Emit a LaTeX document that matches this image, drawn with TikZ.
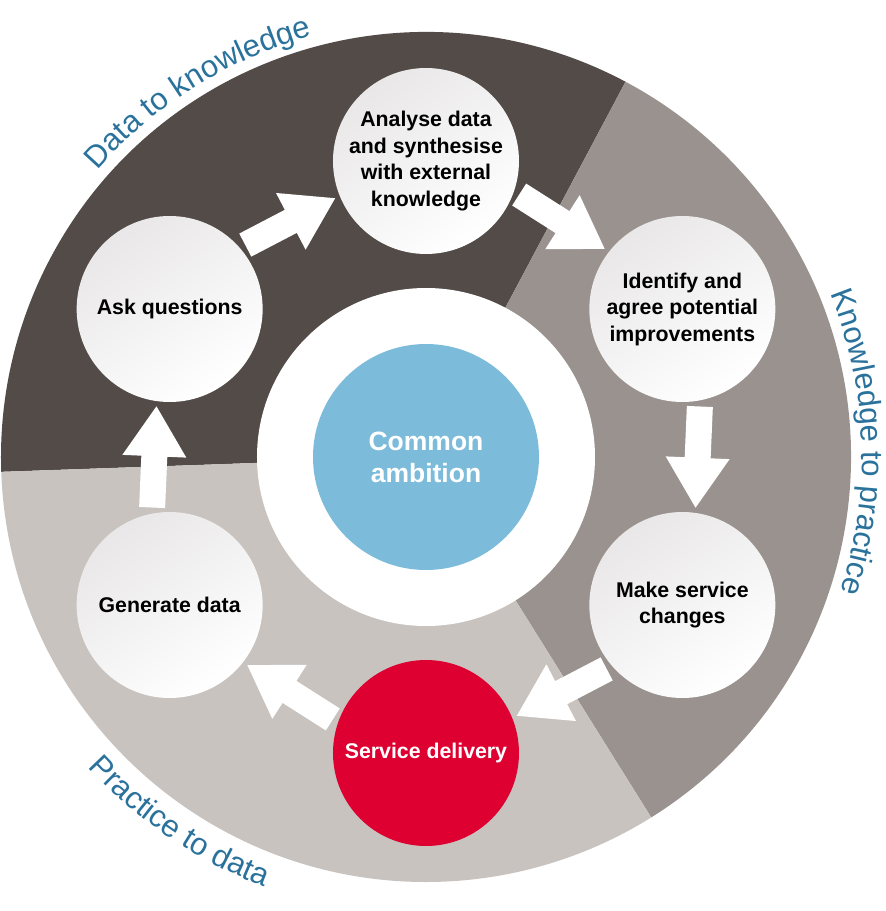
\documentclass[tikz,border=0pt]{standalone}
\usepackage{fontspec}
\setmainfont{Liberation Sans}
\usepackage{tikz}
\usetikzlibrary{calc,decorations.text}

\definecolor{darksector}{HTML}{524B48}
\definecolor{midsector}{HTML}{99928F}
\definecolor{lightsector}{HTML}{C8C3BF}
\definecolor{ambitionblue}{HTML}{7CBCDA}
\definecolor{deliveryred}{HTML}{DD0031}
\definecolor{labelblue}{HTML}{2A729C}
\definecolor{stagegray}{HTML}{E9E7E7}

\newcommand{\arcfont}{\fontsize{31}{37}\selectfont\color{labelblue}}

% block arrow from one stage to the next
\newcommand{\cyclearrow}[2]{%
  \coordinate (arrS) at ($(#1)!6pt!(#2)$);
  \coordinate (arrT) at ($(#2)!5pt!(#1)$);
  \coordinate (arrH) at ($(arrT)!50pt!(arrS)$);
  \fill[white] ($(arrS)!13pt!90:(arrT)$) -- ($(arrH)!13pt!90:(arrT)$)
    -- ($(arrH)!32pt!90:(arrT)$) -- (arrT) -- ($(arrH)!32pt!-90:(arrT)$)
    -- ($(arrH)!13pt!-90:(arrT)$) -- ($(arrS)!13pt!-90:(arrT)$) -- cycle;
}

\begin{document}
\begin{tikzpicture}[x=1pt,y=1pt,
    stagebase/.style={circle,minimum size=186pt,inner sep=0pt,align=center,
      font=\fontsize{21.3}{26.5}\selectfont\bfseries},
    stage/.style={stagebase,top color=stagegray,bottom color=white,shading angle=35},
    ringlabel/.style={decorate,decoration={text along path,text align=center,text={|\arcfont|#1}}}]
    \useasboundingbox (-426,-454) rectangle (460,457);

    % Sectors
    \fill[darksector] (0,0) -- (62:425) arc[start angle=62,end angle=182,radius=425] -- cycle;
    \fill[midsector] (0,0) -- (-58:425) arc[start angle=-58,end angle=62,radius=425] -- cycle;
    \fill[lightsector] (0,0) -- (182:425) arc[start angle=182,end angle=302,radius=425] -- cycle;
    \fill[white] (0,0) circle (169);

    \node[circle,fill=ambitionblue,minimum size=226pt,inner sep=0pt,align=center,text=white,
      font=\fontsize{26.5}{32}\selectfont\bfseries] (ambition) at (0,0) {Common\\ambition};

    % Stages
    \node[stage] (ask) at (150:296) {Ask questions};
    \node[stage] (analyse) at (90:296) {Analyse data\\and synthesise\\with external\\knowledge};
    \node[stage] (identify) at (30:296) {Identify and\\agree potential\\improvements};
    \node[stage] (change) at (-30:296) {Make service\\changes};
    \node[stagebase,fill=deliveryred,text=white] (delivery) at (-90:296) {Service delivery};
    \node[stage] (generate) at (-150:296) {Generate data};

    % Cycle arrows
    \cyclearrow{ask.41}{analyse.202}
    \cyclearrow{analyse.341}{identify.142}
    \cyclearrow{identify.281}{change.82}
    \cyclearrow{change.221}{delivery.22}
    \cyclearrow{delivery.161}{generate.322}
    \cyclearrow{generate.101}{ask.262}

    % Ring labels
    \path[ringlabel=Data to knowledge] (172:436) arc[start angle=172,end angle=72,radius=436];
    \path[ringlabel=Knowledge to practice] (52:436) arc[start angle=52,end angle=-48,radius=436];
    \path[ringlabel=Practice to data] (186:459) arc[start angle=186,end angle=286,radius=459];
\end{tikzpicture}
\end{document}
